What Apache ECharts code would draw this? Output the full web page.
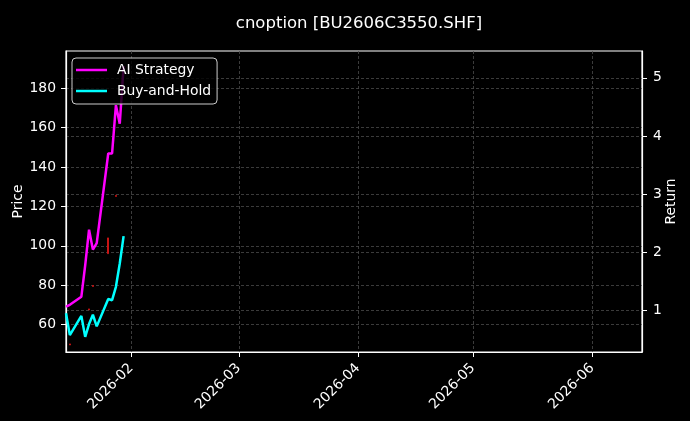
<!DOCTYPE html>
<html>
<head>
<meta charset="utf-8">
<script src="https://cdn.jsdelivr.net/npm/echarts@6/dist/echarts.min.js"></script>
<style>
html, body { margin: 0; padding: 0; background: #000; }
#main { width: 690px; height: 421px; }
</style>
</head>
<body>
<div id="main"></div>
<script>
var dom = document.getElementById("main");
var myChart = echarts.init(dom);

// trading days shown in the chart
var dates = ['2026-01-15', '2026-01-16', '2026-01-19', '2026-01-20', '2026-01-21', '2026-01-22',
             '2026-01-23', '2026-01-26', '2026-01-27', '2026-01-28', '2026-01-29', '2026-01-30'];
// cumulative returns (right axis)
var aiStrategy = [1.07, 1.10, 1.24, 1.78, 2.39, 2.05, 2.16, 3.70, 3.70, 4.53, 4.21, 5.20];
var buyHold = [0.955, 0.58, 0.91, 0.55, 0.77, 0.93, 0.73, 1.20, 1.18, 1.41, 1.81, 2.28];

// the few visible price candles (left axis)
var candleDates = ['2026-01-16', '2026-01-21', '2026-01-22', '2026-01-26', '2026-01-28'];
var candleOpen = [49.6, 67.4, 79.3, 96.0, 125.1];
var candleClose = [50.1, 67.9, 79.8, 104.0, 125.6];

var monthTicks = ['2026-02-01', '2026-03-01', '2026-04-01', '2026-05-01', '2026-06-01'];
var priceTicks = [60, 80, 100, 120, 140, 160, 180];
var returnTicks = [1, 2, 3, 4, 5];

function ts(d) {
    return +new Date(d + 'T00:00:00');
}

function pairs(xs, ys) {
    var res = [];
    for (var i = 0; i < xs.length; i++) {
        res.push([ts(xs[i]), ys[i]]);
    }
    return res;
}

var candles = [];
for (var i = 0; i < candleDates.length; i++) {
    candles.push([ts(candleDates[i]), candleOpen[i], candleClose[i],
        Math.min(candleOpen[i], candleClose[i]), Math.max(candleOpen[i], candleClose[i])]);
}

var monthValues = monthTicks.map(ts);

var gridLine = {
    show: true,
    lineStyle: { color: '#4a4a4a', type: [3, 2], width: 0.8 }
};
var font = 'DejaVu Sans';

option = {
    backgroundColor: '#000000',
    animation: false,
    title: {
        text: 'cnoption [BU2606C3550.SHF]',
        left: 354,
        textAlign: 'center',
        top: 10,
        textStyle: { color: '#fff', fontFamily: font, fontSize: 16.5, fontWeight: 'normal' }
    },
    legend: {
        orient: 'vertical',
        left: 72,
        top: 58,
        padding: [4, 6, 5, 4],
        itemGap: 5,
        itemWidth: 31,
        itemHeight: 2.5,
        icon: 'rect',
        backgroundColor: 'rgba(0,0,0,0.8)',
        borderColor: '#cccccc',
        borderWidth: 1,
        borderRadius: 4,
        textStyle: { color: '#fff', fontFamily: font, fontSize: 13.9, lineHeight: 16, padding: [0, 0, 0, 5] },
        data: ['AI Strategy', 'Buy-and-Hold']
    },
    grid: {
        left: 66, right: 48, top: 51, bottom: 69,
        show: true, borderColor: '#fff', borderWidth: 1.2,
        containLabel: false,
        outerBoundsMode: 'none'
    },
    xAxis: {
        type: 'value',
        min: ts('2026-01-15'),
        max: ts('2026-06-14'),
        axisLine: { show: true, onZero: false, lineStyle: { color: '#fff', width: 1.2 } },
        axisTick: { show: true, length: 5, lineStyle: { color: '#fff' }, customValues: monthValues },
        axisLabel: {
            color: '#fff', fontFamily: font, fontSize: 13.9, rotate: 45, margin: 14,
            customValues: monthValues,
            formatter: function (v) { return echarts.time.format(v, '{yyyy}-{MM}', false); }
        },
        splitLine: gridLine
    },
    yAxis: [
        {
            type: 'value',
            name: 'Price',
            nameLocation: 'middle',
            nameGap: 41,
            nameMoveOverlap: false,
            nameTextStyle: { color: '#fff', fontFamily: font, fontSize: 13.9 },
            min: 46,
            max: 199,
            axisLine: { show: true, lineStyle: { color: '#fff', width: 1.2 } },
            axisTick: { show: true, length: 5, lineStyle: { color: '#fff' }, customValues: priceTicks },
            axisLabel: { color: '#fff', fontFamily: font, fontSize: 13.9, margin: 10, customValues: priceTicks },
            splitLine: gridLine
        },
        {
            type: 'value',
            name: 'Return',
            nameLocation: 'middle',
            nameGap: 22,
            nameMoveOverlap: false,
            nameTextStyle: { color: '#fff', fontFamily: font, fontSize: 13.9 },
            min: 0.29,
            max: 5.46,
            axisLine: { show: true, lineStyle: { color: '#fff', width: 1.2 } },
            axisTick: { show: true, length: 5, lineStyle: { color: '#fff' }, customValues: returnTicks },
            axisLabel: { color: '#fff', fontFamily: font, fontSize: 13.9, margin: 11, customValues: returnTicks },
            splitLine: gridLine
        }
    ],
    series: [
        {
            name: 'Price',
            type: 'candlestick',
            yAxisIndex: 0,
            barWidth: 1.5,
            data: candles,
            itemStyle: {
                color: '#c81414', color0: '#c81414',
                borderColor: '#c81414', borderColor0: '#c81414', borderWidth: 1
            }
        },
        {
            name: 'AI Strategy',
            type: 'line',
            yAxisIndex: 1,
            data: pairs(dates, aiStrategy),
            showSymbol: false,
            color: '#ff00ff',
            lineStyle: { width: 2.5, color: '#ff00ff' }
        },
        {
            name: 'Buy-and-Hold',
            type: 'line',
            yAxisIndex: 1,
            data: pairs(dates, buyHold),
            showSymbol: false,
            color: '#00ffff',
            lineStyle: { width: 2.5, color: '#00ffff' }
        }
    ]
};
if (option && typeof option === "object") {
    myChart.setOption(option, true);
}
</script>
</body>
</html>
